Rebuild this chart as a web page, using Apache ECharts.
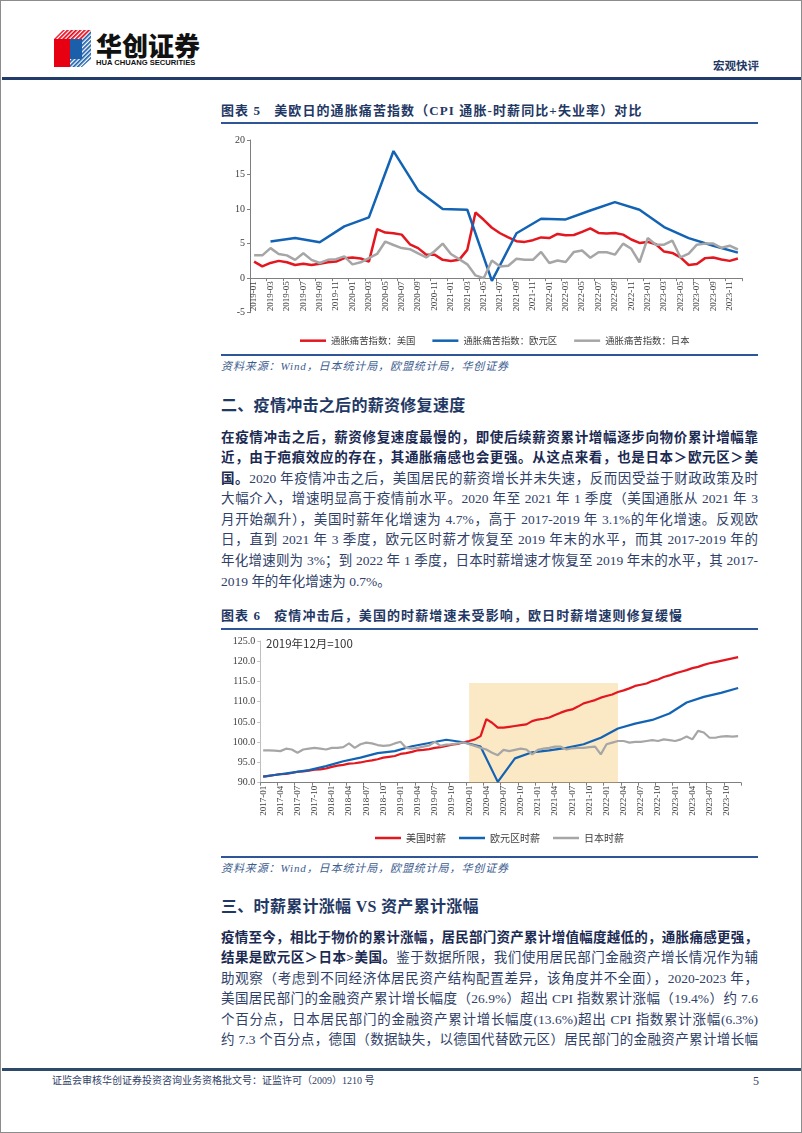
<!DOCTYPE html>
<html><head><meta charset="utf-8">
<script src="https://cdn.jsdelivr.net/npm/echarts@6/dist/echarts.min.js"></script>
<style>
html,body{margin:0;padding:0;background:#fff;}
#page{position:relative;width:802px;height:1133px;border:1px solid #8c8c8c;box-sizing:border-box;overflow:hidden;background:#fff;font-family:"Liberation Serif","Noto Sans CJK SC",serif;}
.abs{position:absolute;}
.title{font-size:13px;font-weight:bold;color:#1f3864;letter-spacing:1.1px;line-height:18px;white-space:nowrap;}
.rule{position:absolute;left:220px;width:537px;height:2px;background:#2e5597;}
.src{font-size:11px;font-style:italic;color:#3d5d8f;letter-spacing:0.9px;line-height:14px;white-space:nowrap;}
.h2{font-size:16px;font-weight:bold;color:#1f3864;line-height:20px;white-space:nowrap;letter-spacing:0.3px;}
.para{position:absolute;left:220px;width:537px;font-size:13.5px;color:#2f4168;}
.ln{height:20.6px;line-height:20.6px;text-align:justify;text-align-last:justify;}
.ln.last{text-align-last:left;}
.para b{color:#1b2a52;}
</style></head>
<body>
<div id="page">
  <!-- header -->
  <svg class="abs" style="left:53px;top:29px" width="37" height="38" viewBox="0 0 37 38">
    <defs>
      <pattern id="rs" width="3" height="3" patternUnits="userSpaceOnUse" patternTransform="rotate(45)"><rect width="1.7" height="3" fill="#e60012"/></pattern>
      <pattern id="bs" width="3" height="3" patternUnits="userSpaceOnUse" patternTransform="rotate(45)"><rect width="1.7" height="3" fill="#1b5fab"/></pattern>
    </defs>
    <polygon points="9,0 37,0 28,9 0,9" fill="url(#rs)"/>
    <polygon points="0,9 16,9 16,37 0,37" fill="#e60012"/>
    <polygon points="16,9 28,9 28,29 16,29" fill="#1b5fab"/>
    <polygon points="28,9 37,0 37,29 28,37" fill="url(#bs)"/>
    <polygon points="16,29 28,29 28,37 16,37" fill="url(#bs)"/>
  </svg>
  <div class="abs" style="left:95px;top:30px;font-family:'Noto Sans CJK SC';font-weight:900;font-size:26px;line-height:28px;color:#111;">华创证券</div>
  <div class="abs" style="left:95px;top:57px;font-family:'Liberation Sans';font-weight:bold;font-size:7.6px;line-height:9px;color:#111;white-space:nowrap;">HUA CHUANG SECURITIES</div>
  <div class="abs" style="left:712px;top:57px;font-family:'Noto Sans CJK SC';font-weight:bold;font-size:11.5px;line-height:14px;color:#1f3864;">宏观快评</div>
  <div class="abs" style="left:1px;top:76px;width:800px;height:2.5px;background:#213b6b;"></div>

  <!-- chart 5 -->
  <div class="abs title" style="left:220px;top:101px;">图表 5&nbsp;&nbsp;&nbsp;美欧日的通胀痛苦指数（CPI 通胀-时薪同比+失业率）对比</div>
  <div class="rule" style="top:121px;"></div>
  <div id="c1" class="abs" style="left:0;top:125px;width:802px;height:225px;"></div>
  <div class="rule" style="top:353px;"></div>
  <div class="abs src" style="left:220px;top:358px;">资料来源：Wind，日本统计局，欧盟统计局，华创证券</div>

  <div class="abs h2" style="left:220px;top:395px;">二、疫情冲击之后的薪资修复速度</div>
  <div class="para" style="top:426.5px;">
    <div class="ln"><b>在疫情冲击之后，薪资修复速度最慢的，即使后续薪资累计增幅逐步向物价累计增幅靠</b></div>
    <div class="ln"><b>近，由于疤痕效应的存在，其通胀痛感也会更强。从这点来看，也是日本＞欧元区＞美</b></div>
    <div class="ln"><b>国。</b>2020 年疫情冲击之后，美国居民的薪资增长并未失速，反而因受益于财政政策及时</div>
    <div class="ln">大幅介入，增速明显高于疫情前水平。2020 年至 2021 年 1 季度（美国通胀从 2021 年 3</div>
    <div class="ln">月开始飙升），美国时薪年化增速为 4.7%，高于 2017-2019 年 3.1%的年化增速。反观欧</div>
    <div class="ln">日，直到 2021 年 3 季度，欧元区时薪才恢复至 2019 年末的水平，而其 2017-2019 年的</div>
    <div class="ln">年化增速则为 3%；到 2022 年 1 季度，日本时薪增速才恢复至 2019 年末的水平，其 2017-</div>
    <div class="ln last">2019 年的年化增速为 0.7%。</div>
  </div>

  <!-- chart 6 -->
  <div class="abs title" style="left:220px;top:606px;">图表 6&nbsp;&nbsp;&nbsp;疫情冲击后，美国的时薪增速未受影响，欧日时薪增速则修复缓慢</div>
  <div class="rule" style="top:627px;"></div>
  <div id="c2" class="abs" style="left:0;top:630px;width:802px;height:220px;"></div>
  <div class="rule" style="top:855px;"></div>
  <div class="abs src" style="left:220px;top:860px;">资料来源：Wind，日本统计局，欧盟统计局，华创证券</div>

  <div class="abs h2" style="left:220px;top:896px;">三、时薪累计涨幅 VS 资产累计涨幅</div>
  <div class="para" style="top:926.5px;">
    <div class="ln"><b>疫情至今，相比于物价的累计涨幅，居民部门资产累计增值幅度越低的，通胀痛感更强，</b></div>
    <div class="ln"><b>结果是欧元区＞日本&gt;美国。</b>鉴于数据所限，我们使用居民部门金融资产增长情况作为辅</div>
    <div class="ln">助观察（考虑到不同经济体居民资产结构配置差异，该角度并不全面），2020-2023 年，</div>
    <div class="ln">美国居民部门的金融资产累计增长幅度（26.9%）超出 CPI 指数累计涨幅（19.4%）约 7.6</div>
    <div class="ln">个百分点，日本居民部门的金融资产累计增长幅度(13.6%)超出 CPI 指数累计涨幅(6.3%)</div>
    <div class="ln">约 7.3 个百分点，德国（数据缺失，以德国代替欧元区）居民部门的金融资产累计增长幅</div>
  </div>

  <!-- footer -->
  <div class="abs" style="left:1px;top:1067px;width:800px;height:2.5px;background:#2d4a6b;"></div>
  <div class="abs" style="left:51px;top:1073px;font-size:10px;line-height:14px;color:#2f4168;white-space:nowrap;">证监会审核华创证券投资咨询业务资格批文号：证监许可（2009）1210 号</div>
  <div class="abs" style="left:752px;top:1072px;font-size:12px;line-height:16px;color:#2f4168;">5</div>
</div>

<script>
// ---------- data: chart 5 (inflation misery index) ----------
const years1 = [2019, 2023];
const legend1 = ['通胀痛苦指数：美国', '通胀痛苦指数：欧元区', '通胀痛苦指数：日本'];
const usMisery = [
  2.4, 1.7, 2.2, 2.5, 2.3, 1.9, 2.1, 1.9, 2.1, 2.3, 2.4, 2.9,
  3.0, 2.85, 2.4, 7.1, 6.6, 6.5, 6.3, 4.9, 4.35, 3.4, 3.4, 2.65,
  2.5, 2.65, 4.1, 9.5, 8.45, 7.3, 6.5, 5.9, 5.35, 5.25, 5.5, 5.9,
  5.8, 6.4, 6.2, 6.25, 6.7, 7.2, 6.55, 6.45, 6.55, 6.3, 5.6, 5.1,
  5.25, 4.9, 3.85, 3.65, 3.0, 1.9, 2.05, 2.9, 3.0, 2.7, 2.5, 2.85
];
// euro area: quarterly (Mar, Jun, Sep, Dec), 2019Q1 .. 2023Q4
const euMiseryQ = [5.3, 5.8, 5.2, 7.5, 8.8, 18.4, 12.7, 10.0, 9.9, -0.4,
                   6.5, 8.6, 8.5, 9.8, 11.0, 9.9, 7.4, 5.8, 4.7, 3.7];
const jpMisery = [
  3.3, 3.3, 4.35, 3.5, 3.3, 2.65, 3.6, 2.65, 2.2, 2.65, 2.75, 3.15,
  2.0, 2.3, 2.9, 3.5, 5.3, 4.8, 4.35, 4.2, 3.6, 3.0, 3.9, 5.0,
  3.5, 2.75, 2.0, 0.4, 0.0, 2.55, 1.7, 1.8, 2.8, 2.65, 2.65, 3.8,
  2.2, 2.55, 2.35, 3.8, 4.0, 2.95, 3.75, 3.75, 3.4, 5.0, 4.25, 2.3,
  5.8, 4.85, 4.85, 5.45, 3.0, 3.55, 4.85, 5.0, 5.0, 4.4, 4.7, 4.15
];
const yTicks1 = {min: -5, max: 20, step: 5};

// ---------- data: chart 6 (hourly wages, 2019-12 = 100) ----------
const years2 = [2017, 2023];
const legend2 = ['美国时薪', '欧元区时薪', '日本时薪'];
const usWage = [
  91.5, 91.7, 91.9, 92.1, 92.2, 92.4, 92.7, 92.8, 93.0, 93.2, 93.3, 93.5,
  93.9, 94.2, 94.4, 94.7, 94.8, 95.0, 95.3, 95.5, 95.8, 96.2, 96.4, 96.6,
  97.1, 97.3, 97.6, 98.0, 98.1, 98.3, 98.6, 98.8, 99.1, 99.4, 99.6, 100.0,
  100.3, 100.7, 101.5, 105.7, 104.8, 103.6, 103.6, 103.8, 104.0, 104.2, 104.4, 105.2,
  105.6, 105.8, 106.1, 106.7, 107.3, 107.8, 108.1, 108.8, 109.6, 110.0, 110.4, 111.0,
  111.4, 111.8, 112.4, 112.8, 113.3, 113.9, 114.2, 114.5, 115.1, 115.5, 116.1, 116.5,
  117.0, 117.4, 117.8, 118.3, 118.6, 119.1, 119.5, 119.8, 120.1, 120.4, 120.7, 121.0
];
// euro area: first month 2017-01, then quarterly (Mar, Jun, Sep, Dec) 2017Q1 .. 2023Q4
const euWageStart = 91.5;
const euWageQ = [91.9, 92.5, 93.1, 94.1, 95.3, 96.2, 97.3, 97.8, 99.0, 99.8, 100.6, 100.0,
                 98.9, 90.2, 96.0, 97.5, 98.0, 98.6, 99.5, 101.1, 103.4, 104.6, 105.5, 107.1,
                 109.8, 111.2, 112.2, 113.4];
const jpWage = [
  98.0, 98.0, 97.9, 97.8, 98.4, 98.2, 97.4, 98.2, 98.4, 98.6, 98.4, 98.2,
  98.6, 98.6, 98.8, 99.7, 98.6, 99.5, 99.9, 99.7, 99.3, 99.1, 99.2, 99.7,
  100.1, 98.6, 98.4, 98.6, 98.9, 99.2, 100.1, 99.1, 99.4, 99.5, 99.7, 100.0,
  99.5, 99.1, 98.6, 98.2, 97.4, 96.8, 98.1, 97.8, 98.1, 98.4, 98.2, 97.0,
  98.1, 98.4, 98.6, 98.9, 98.9, 98.2, 98.5, 98.6, 98.6, 98.8, 98.9, 97.0,
  99.5, 99.9, 100.3, 100.3, 99.9, 100.1, 100.1, 100.3, 100.5, 100.3, 100.7, 100.5,
  100.3, 100.7, 101.4, 100.7, 102.8, 102.4, 101.1, 101.1, 101.4, 101.5, 101.4, 101.5
];
const yTicks2 = {min: 90, max: 125, step: 5};
const baseNote = '2019年12月=100';
const shadeFrom = 36;   // 2020-01 (category index)
const shadeTo = 61.5;   // end of shaded window (early 2022)
const shadeTop = 114.6;

// ---------- helpers ----------
function monthLabels(y0, y1) {
  const a = [];
  for (let y = y0; y <= y1; y++) for (let m = 1; m <= 12; m++) a.push(y + '-' + String(m).padStart(2, '0'));
  return a;
}
function spreadQuarterly(q, len, first) {
  const a = new Array(len).fill(null);
  if (first !== undefined) a[0] = first;
  q.forEach((v, k) => { a[2 + 3 * k] = v; });
  return a;
}
const months1 = monthLabels(years1[0], years1[1]);
const months2 = monthLabels(years2[0], years2[1]);

const RED = '#e3171f', BLUE = '#1363b5', GRAY = '#a6a6a6';
const AX = '#7f7f7f', LBL = '#404040';
const serif = 'Liberation Serif';
const cjk = 'Noto Sans CJK SC';

function lineSeries(name, data, color, w, extra) {
  return Object.assign({
    name, type: 'line', data, symbol: 'none', showSymbol: false,
    lineStyle: {color, width: w}, itemStyle: {color}, z: 3
  }, extra || {});
}

// ---------- chart 5 ----------
const grid1H = 172.7;
const zeroOffset1 = grid1H * (0 - yTicks1.min) / (yTicks1.max - yTicks1.min);
const c1 = echarts.init(document.getElementById('c1'), null, {renderer: 'canvas'});
c1.setOption({
  animation: false,
  grid: {left: 249, top: 14, width: 492, height: grid1H, containLabel: false},
  legend: {
    data: legend1, left: 294, top: 205, icon: 'rect', itemWidth: 26, itemHeight: 2.5, itemGap: 17,
    textStyle: {fontFamily: cjk, fontSize: 9.4, color: LBL}
  },
  xAxis: {
    type: 'category', data: months1, boundaryGap: true, offset: -zeroOffset1,
    axisLine: {onZero: false, lineStyle: {color: AX, width: 1}},
    axisTick: {show: true, interval: 1, length: 3, lineStyle: {color: AX}},
    axisLabel: {interval: 1, rotate: 90, fontSize: 9, fontFamily: serif, color: LBL, margin: 3},
    splitLine: {show: false}
  },
  yAxis: {
    type: 'value', min: yTicks1.min, max: yTicks1.max, interval: yTicks1.step,
    axisLine: {show: true, lineStyle: {color: AX}},
    axisTick: {show: true, length: 3, lineStyle: {color: AX}},
    axisLabel: {fontSize: 10, fontFamily: serif, color: LBL, margin: 5},
    splitLine: {show: false}
  },
  series: [
    lineSeries(legend1[0], usMisery, RED, 2.5),
    lineSeries(legend1[1], spreadQuarterly(euMiseryQ, months1.length), BLUE, 2.5, {connectNulls: true}),
    lineSeries(legend1[2], jpMisery, GRAY, 2.5)
  ]
});

// ---------- chart 6 ----------
const c2 = echarts.init(document.getElementById('c2'), null, {renderer: 'canvas'});
c2.setOption({
  animation: false,
  grid: {left: 259.3, top: 10, width: 480.7, height: 141.7, containLabel: false},
  legend: {
    data: legend2, left: 369, top: 197, icon: 'rect', itemWidth: 26, itemHeight: 2.5, itemGap: 13,
    textStyle: {fontFamily: cjk, fontSize: 10, color: LBL}
  },
  graphic: [{
    type: 'text', left: 265, top: 7,
    style: {text: baseNote, fontFamily: cjk, fontSize: 11.5, fill: '#333'}
  }],
  xAxis: {
    type: 'category', data: months2, boundaryGap: true,
    axisLine: {onZero: false, lineStyle: {color: AX, width: 1}},
    axisTick: {show: true, interval: 2, length: 3, lineStyle: {color: AX}},
    axisLabel: {interval: 2, rotate: 90, fontSize: 9, fontFamily: serif, color: LBL, margin: 3},
    splitLine: {show: false}
  },
  yAxis: {
    type: 'value', min: yTicks2.min, max: yTicks2.max, interval: yTicks2.step,
    axisLine: {show: true, lineStyle: {color: '#bfbfbf'}},
    axisTick: {show: true, length: 3, lineStyle: {color: '#bfbfbf'}},
    axisLabel: {fontSize: 10, fontFamily: serif, color: LBL, margin: 5, formatter: v => v.toFixed(1)},
    splitLine: {show: false}
  },
  series: [
    lineSeries(legend2[0], usWage, RED, 2.2),
    lineSeries(legend2[1], spreadQuarterly(euWageQ, months2.length, euWageStart), BLUE, 2.2, {connectNulls: true}),
    lineSeries(legend2[2], jpWage, GRAY, 2.2),
    {
      name: 'shade', type: 'line', data: [], z: 10, silent: true,
      markArea: {
        silent: true,
        itemStyle: {color: 'rgba(243,186,80,0.33)'},
        data: [[{coord: [shadeFrom, shadeTop]}, {coord: [shadeTo, yTicks2.min]}]]
      }
    }
  ]
});
</script>
</body></html>
